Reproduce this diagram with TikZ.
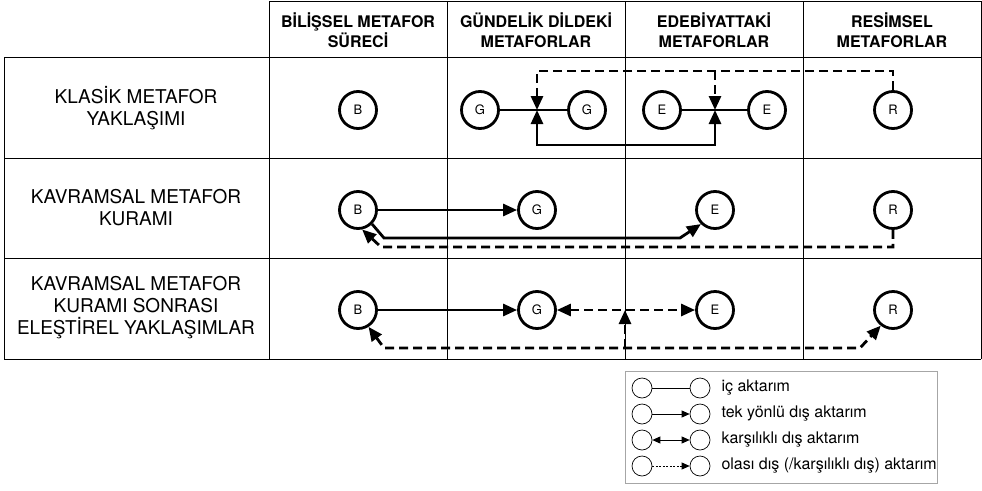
\documentclass[tikz,border=0pt]{standalone}
\usepackage{fontspec}
\setmainfont{TeX Gyre Heros}
\usetikzlibrary{arrows.meta}
\begin{document}
\begin{tikzpicture}[x=1pt,y=-1pt,
  gridline/.style={line width=0.9pt},
  hdr/.style={align=center,font=\fontsize{16}{20}\selectfont\bfseries},
  rowlab/.style={align=center,font=\fontsize{19}{22}\selectfont},
  circ/.style={circle,draw,line width=2.8pt,minimum size=37pt,inner sep=0pt,font=\fontsize{13}{13}\selectfont},
  conn/.style={line width=2.8pt},
  dconn/.style={conn,dash pattern=on 9pt off 5pt},
  arr/.style={-{Triangle[length=14pt,width=12pt]}},
  barr/.style={{Triangle[length=14pt,width=12pt]}-{Triangle[length=14pt,width=12pt]}},
  lcirc/.style={circle,draw,line width=0.7pt,minimum size=20pt,inner sep=0pt},
  lconn/.style={line width=0.8pt},
  larr/.style={-{Triangle[length=8pt,width=7pt]}},
  lbarr/.style={{Triangle[length=8pt,width=7pt]}-{Triangle[length=8pt,width=7pt]}},
  ltext/.style={anchor=west,font=\fontsize{16}{16}\selectfont}
]
\useasboundingbox (0,0) rectangle (982,490);

% table grid
\draw[gridline] (269,1) -- (981,1);
\draw[gridline] (4,57) -- (981,57);
\draw[gridline] (4,158) -- (981,158);
\draw[gridline] (4,258) -- (981,258);
\draw[gridline] (4,359) -- (981,359);
\draw[gridline] (4,57) -- (4,359);
\draw[gridline] (269,1) -- (269,359);
\draw[gridline] (447,1) -- (447,359);
\draw[gridline] (625,1) -- (625,359);
\draw[gridline] (803,1) -- (803,359);
\draw[gridline] (981,1) -- (981,359);

% headers
\node[hdr] (h1) at (358,30) {BİLİŞSEL METAFOR\\SÜRECİ};
\node[hdr] (h2) at (536,30) {GÜNDELİK DİLDEKİ\\METAFORLAR};
\node[hdr] (h3) at (714,30) {EDEBİYATTAKİ\\METAFORLAR};
\node[hdr] (h4) at (892,30) {RESİMSEL\\METAFORLAR};

% row labels
\node[rowlab] (r1) at (136,108) {KLASİK METAFOR\\YAKLAŞIMI};
\node[rowlab] (r2) at (136,208) {KAVRAMSAL METAFOR\\KURAMI};
\node[rowlab] (r3) at (136,308) {KAVRAMSAL METAFOR\\KURAMI SONRASI\\ELEŞTİREL YAKLAŞIMLAR};

% row 1
\node[circ] (B1) at (358,110) {B};
\node[circ] (G1a) at (480,110) {G};
\node[circ] (G1b) at (587,110) {G};
\node[circ] (E1a) at (662,110) {E};
\node[circ] (E1b) at (767,110) {E};
\node[circ] (R1) at (893,110) {R};
\coordinate (jg) at (537,110);
\coordinate (je) at (715,110);
\draw[conn] (G1a) -- (G1b);
\draw[conn] (E1a) -- (E1b);
\draw[dconn,arr] (R1.north) |- (537,71) -- (jg);
\draw[dconn,arr] (715,71) -- (je);
\draw[conn,barr] (jg) -- (537,145) -- (715,145) -- (je);

% row 2
\node[circ] (B2) at (358,210) {B};
\node[circ] (G2) at (537,210) {G};
\node[circ] (E2) at (715,210) {E};
\node[circ] (R2) at (893,210) {R};
\draw[conn,arr] (B2) -- (G2);
\draw[conn,arr] (B2.-45) -- (384,238) -- (680,238) -- (E2.-135);
\draw[dconn,arr] (R2.south) |- (381,247) -- (B2.-78);

% row 3
\node[circ] (B3) at (358,310) {B};
\node[circ] (G3) at (537,310) {G};
\node[circ] (E3) at (715,310) {E};
\node[circ] (R3) at (893,310) {R};
\coordinate (j3) at (625,310);
\draw[conn,arr] (B3) -- (G3);
\draw[dconn,barr] (G3) -- (E3);
\draw[dconn,arr] (625,348) -- (j3);
\draw[dconn,barr] (B3.-58) -- (384,348) -- (860,348) -- (R3.-128);

% legend
\draw[line width=0.9pt,draw=gray!70] (625,371) rectangle (937,483);
\node[lcirc] (la1) at (642,388) {};
\node[lcirc] (lb1) at (700,388) {};
\node[lcirc] (la2) at (642,414) {};
\node[lcirc] (lb2) at (700,414) {};
\node[lcirc] (la3) at (642,440) {};
\node[lcirc] (lb3) at (700,440) {};
\node[lcirc] (la4) at (642,466) {};
\node[lcirc] (lb4) at (700,466) {};
\draw[lconn] (la1) -- (lb1);
\draw[lconn,larr] (la2) -- (lb2);
\draw[lconn,lbarr] (la3) -- (lb3);
\draw[lconn,larr,dash pattern=on 2pt off 1.5pt] (la4) -- (lb4);
\node[ltext] (t1) at (718,388) {iç aktarım};
\node[ltext] (t2) at (718,414) {tek yönlü dış aktarım};
\node[ltext] (t3) at (718,440) {karşılıklı dış aktarım};
\node[ltext] (t4) at (718,466) {olası dış (/karşılıklı dış) aktarım};
\end{tikzpicture}
\end{document}
